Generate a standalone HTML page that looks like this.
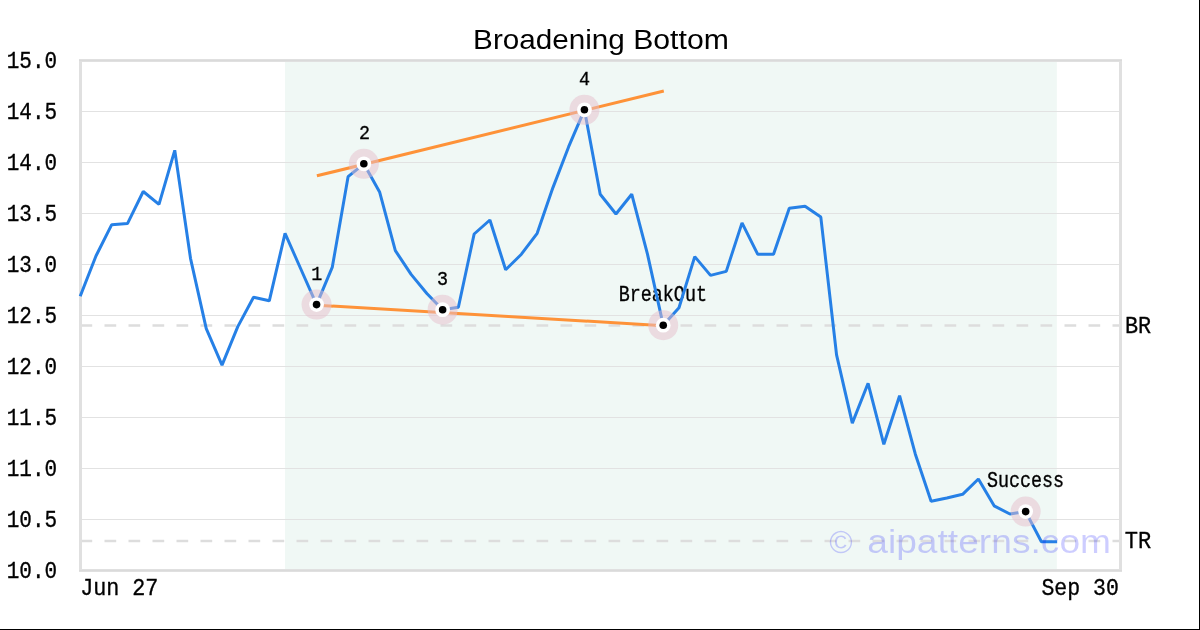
<!DOCTYPE html>
<html><head><meta charset="utf-8"><style>
html,body{margin:0;padding:0;background:#fff;}
body{width:1200px;height:630px;overflow:hidden;position:relative;}
svg{position:absolute;left:0;top:0;display:block;}
</style></head><body>
<svg width="1200" height="630" viewBox="0 0 1200 630">
<rect x="0" y="0" width="1200" height="630" fill="#fff"/>
<rect x="285.05" y="60.5" width="771.80" height="510" fill="#f0f8f5"/>
<g stroke="#e2e2e2" stroke-width="1"><line x1="80.5" x2="1120.5" y1="111.5" y2="111.5"/><line x1="80.5" x2="1120.5" y1="162.5" y2="162.5"/><line x1="80.5" x2="1120.5" y1="213.5" y2="213.5"/><line x1="80.5" x2="1120.5" y1="264.5" y2="264.5"/><line x1="80.5" x2="1120.5" y1="315.5" y2="315.5"/><line x1="80.5" x2="1120.5" y1="366.5" y2="366.5"/><line x1="80.5" x2="1120.5" y1="417.5" y2="417.5"/><line x1="80.5" x2="1120.5" y1="468.5" y2="468.5"/><line x1="80.5" x2="1120.5" y1="519.5" y2="519.5"/></g>
<g stroke="#dddddd" stroke-width="2.5" stroke-dasharray="11.7 12.3">
<line x1="80.5" x2="1120.5" y1="325.55" y2="325.55"/>
<line x1="80.5" x2="1120.5" y1="540.9" y2="540.9"/>
</g>
<rect x="80.5" y="60.5" width="1040" height="510" fill="none" stroke="#e0e0e0" stroke-width="3"/>
<g stroke="#dadada" stroke-width="1"><line x1="79" x2="1122" y1="60.5" y2="60.5"/><line x1="79" x2="1122" y1="570.5" y2="570.5"/></g>
<g opacity="0.999"><text x="0" y="0" font-family="Liberation Mono" font-size="18.4" fill="#000" stroke="#000" stroke-width="0.3" transform="translate(311.30 279.70) scale(1.0000 1.1000)">1</text><text x="0" y="0" font-family="Liberation Mono" font-size="18.4" fill="#000" stroke="#000" stroke-width="0.3" transform="translate(358.90 139.30) scale(1.0000 1.1000)">2</text><text x="0" y="0" font-family="Liberation Mono" font-size="18.4" fill="#000" stroke="#000" stroke-width="0.3" transform="translate(437.00 284.70) scale(1.0000 1.1000)">3</text><text x="0" y="0" font-family="Liberation Mono" font-size="18.4" fill="#000" stroke="#000" stroke-width="0.3" transform="translate(579.10 85.00) scale(1.0000 1.1000)">4</text><text x="0" y="0" font-family="Liberation Mono" font-size="18.4" fill="#000" stroke="#000" stroke-width="0.3" transform="translate(618.70 300.70) scale(1.0000 1.1500)">BreakOut</text><text x="0" y="0" font-family="Liberation Mono" font-size="18.4" fill="#000" stroke="#000" stroke-width="0.3" transform="translate(986.90 486.50) scale(1.0000 1.1500)">Success</text></g>
<g fill="none" stroke="#fe9238" stroke-width="3">
<line x1="316.90" y1="175.8" x2="663.80" y2="91.0"/>
<line x1="316.70" y1="305.2" x2="663.60" y2="325.7"/>
</g>
<polyline points="80.20,296.20 95.96,256.00 111.72,224.70 127.47,223.60 143.23,191.50 158.99,204.40 174.75,150.30 190.50,258.30 206.26,328.60 222.02,365.10 237.78,326.60 253.53,297.20 269.29,300.80 285.05,233.30 300.81,269.00 316.56,304.60 332.32,267.10 348.08,176.70 363.84,163.80 379.59,191.90 395.35,250.60 411.11,274.40 426.87,293.50 442.62,309.70 458.38,307.20 474.14,234.00 489.90,220.00 505.65,269.70 521.41,254.20 537.17,233.30 552.93,187.60 568.68,146.70 584.44,109.80 600.20,194.20 615.96,214.00 631.72,194.20 647.47,254.20 663.23,325.20 678.99,307.70 694.75,256.60 710.50,275.40 726.26,271.40 742.02,222.90 757.78,254.30 773.53,254.30 789.29,208.30 805.05,206.30 820.81,217.10 836.56,354.80 852.32,423.10 868.08,383.30 883.84,444.30 899.59,395.70 915.35,454.20 931.11,501.30 946.87,498.00 962.62,494.30 978.38,479.00 994.14,505.80 1009.90,514.00 1025.65,511.60 1041.41,541.80 1057.17,541.80" fill="none" stroke="#2680e6" stroke-width="3" stroke-linejoin="bevel" stroke-linecap="butt"/>
<circle cx="316.56" cy="304.60" r="15" fill="rgba(230,190,203,0.5)"/><circle cx="316.56" cy="304.60" r="7.4" fill="#fff"/><circle cx="316.56" cy="304.60" r="3.8" fill="#000"/><circle cx="363.84" cy="163.80" r="15" fill="rgba(230,190,203,0.5)"/><circle cx="363.84" cy="163.80" r="7.4" fill="#fff"/><circle cx="363.84" cy="163.80" r="3.8" fill="#000"/><circle cx="442.62" cy="309.70" r="15" fill="rgba(230,190,203,0.5)"/><circle cx="442.62" cy="309.70" r="7.4" fill="#fff"/><circle cx="442.62" cy="309.70" r="3.8" fill="#000"/><circle cx="584.44" cy="109.80" r="15" fill="rgba(230,190,203,0.5)"/><circle cx="584.44" cy="109.80" r="7.4" fill="#fff"/><circle cx="584.44" cy="109.80" r="3.8" fill="#000"/><circle cx="663.23" cy="325.20" r="15" fill="rgba(230,190,203,0.5)"/><circle cx="663.23" cy="325.20" r="7.4" fill="#fff"/><circle cx="663.23" cy="325.20" r="3.8" fill="#000"/><circle cx="1025.65" cy="511.60" r="15" fill="rgba(230,190,203,0.5)"/><circle cx="1025.65" cy="511.60" r="7.4" fill="#fff"/><circle cx="1025.65" cy="511.60" r="3.8" fill="#000"/>
<g opacity="0.999">
<text x="0" y="0" font-family="Liberation Mono" font-size="21" fill="#000" stroke="#000" stroke-width="0.3" transform="translate(6.70 67.60) scale(1.0000 1.1600)">15.0</text><text x="0" y="0" font-family="Liberation Mono" font-size="21" fill="#000" stroke="#000" stroke-width="0.3" transform="translate(6.70 118.60) scale(1.0000 1.1600)">14.5</text><text x="0" y="0" font-family="Liberation Mono" font-size="21" fill="#000" stroke="#000" stroke-width="0.3" transform="translate(6.70 169.60) scale(1.0000 1.1600)">14.0</text><text x="0" y="0" font-family="Liberation Mono" font-size="21" fill="#000" stroke="#000" stroke-width="0.3" transform="translate(6.70 220.60) scale(1.0000 1.1600)">13.5</text><text x="0" y="0" font-family="Liberation Mono" font-size="21" fill="#000" stroke="#000" stroke-width="0.3" transform="translate(6.70 271.60) scale(1.0000 1.1600)">13.0</text><text x="0" y="0" font-family="Liberation Mono" font-size="21" fill="#000" stroke="#000" stroke-width="0.3" transform="translate(6.70 322.60) scale(1.0000 1.1600)">12.5</text><text x="0" y="0" font-family="Liberation Mono" font-size="21" fill="#000" stroke="#000" stroke-width="0.3" transform="translate(6.70 373.60) scale(1.0000 1.1600)">12.0</text><text x="0" y="0" font-family="Liberation Mono" font-size="21" fill="#000" stroke="#000" stroke-width="0.3" transform="translate(6.70 424.60) scale(1.0000 1.1600)">11.5</text><text x="0" y="0" font-family="Liberation Mono" font-size="21" fill="#000" stroke="#000" stroke-width="0.3" transform="translate(6.70 475.60) scale(1.0000 1.1600)">11.0</text><text x="0" y="0" font-family="Liberation Mono" font-size="21" fill="#000" stroke="#000" stroke-width="0.3" transform="translate(6.70 526.60) scale(1.0000 1.1600)">10.5</text><text x="0" y="0" font-family="Liberation Mono" font-size="21" fill="#000" stroke="#000" stroke-width="0.3" transform="translate(6.70 577.60) scale(1.0000 1.1600)">10.0</text><text x="0" y="0" font-family="Liberation Mono" font-size="21" fill="#000" stroke="#000" stroke-width="0.3" transform="translate(80.19 594.70) scale(1.0350 1.1200)">Jun 27</text><text x="0" y="0" font-family="Liberation Mono" font-size="21" fill="#000" stroke="#000" stroke-width="0.3" transform="translate(1041.43 594.70) scale(1.0250 1.1200)">Sep 30</text><text x="0" y="0" font-family="Liberation Mono" font-size="21" fill="#000" stroke="#000" stroke-width="0.3" transform="translate(1124.88 333.00) scale(1.0400 1.1500)">BR</text><text x="0" y="0" font-family="Liberation Mono" font-size="21" fill="#000" stroke="#000" stroke-width="0.3" transform="translate(1124.71 548.10) scale(1.0500 1.1500)">TR</text>
<text x="0" y="0" font-family="Liberation Sans" font-size="28" fill="#000" transform="translate(473.12 48.75) scale(1.0600 1.0100)">Broadening</text><text x="0" y="0" font-family="Liberation Sans" font-size="28" fill="#000" transform="translate(633.17 48.75) scale(1.0790 1.0100)">Bottom</text>
<text x="0" y="0" font-family="Liberation Sans" font-size="34" fill="rgba(0,0,255,0.2)" transform="translate(829.13 552.60) scale(0.9350 0.9400)">©</text><text x="0" y="0" font-family="Liberation Sans" font-size="34" fill="rgba(0,0,255,0.2)" transform="translate(867.26 552.70) scale(1.0935 0.9850)">aipatterns.com</text>
</g>
<rect x="1199" y="0" width="1" height="630" fill="#000"/>
<rect x="0" y="629" width="1200" height="1" fill="#000"/>
</svg>
</body></html>
